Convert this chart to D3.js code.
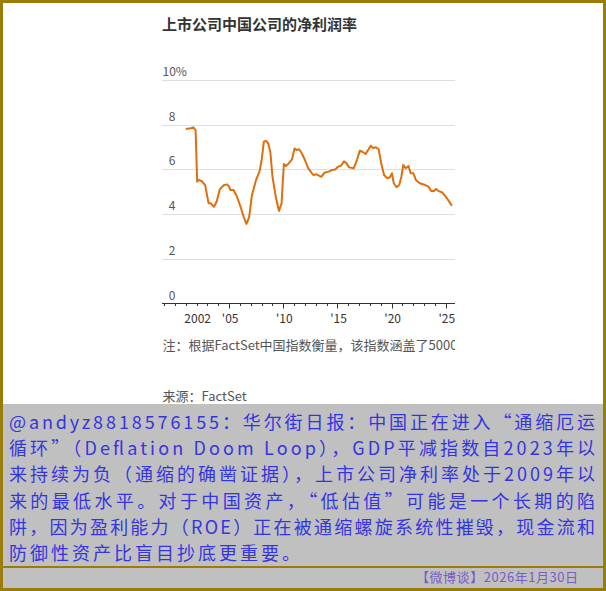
<!DOCTYPE html>
<html><head><meta charset="utf-8">
<script src="https://cdn.jsdelivr.net/npm/d3@7"></script>
<style>body{margin:0;background:#fff}svg{display:block}</style>
</head><body>
<svg id="c" width="606" height="591"></svg>
<script>
// ---- data ----
const years = [2001.0,2001.45,2001.7,2001.9,2002.05,2002.2,2002.48,2002.78,2003.1,2003.3,2003.6,2003.84,
  2004.14,2004.5,2004.8,2005.0,2005.1,2005.4,2005.7,2006.05,2006.34,2006.6,2006.85,2007.1,2007.5,2007.8,
  2008.0,2008.2,2008.4,2008.6,2008.8,2009.0,2009.3,2009.6,2009.84,2010.05,2010.24,2010.5,2010.8,2011.04,
  2011.2,2011.46,2011.7,2012.0,2012.3,2012.76,2013.07,2013.5,2013.8,2014.18,2014.5,2014.8,2015.04,2015.3,
  2015.6,2015.84,2016.08,2016.5,2016.8,2017.07,2017.3,2017.6,2017.87,2018.06,2018.3,2018.55,2018.8,2019.04,
  2019.3,2019.6,2019.84,2020.03,2020.2,2020.45,2020.7,2020.9,2021.07,2021.3,2021.56,2021.75,2022.0,2022.24,
  2022.6,2023.1,2023.4,2023.65,2023.9,2024.1,2024.33,2024.64,2024.95,2025.26,2025.56];
const margins = [7.81,7.84,7.88,7.76,5.45,5.53,5.47,5.30,4.48,4.48,4.33,4.55,
  5.11,5.29,5.33,5.23,5.08,5.08,4.81,4.33,3.88,3.56,3.88,4.85,5.55,5.90,
  6.42,7.24,7.28,7.17,6.79,5.67,4.78,4.14,4.48,6.24,6.15,6.27,6.45,6.94,
  6.87,6.90,6.72,6.42,6.05,5.75,5.78,5.67,5.85,5.90,5.97,6.00,6.12,6.15,
  6.36,6.27,6.09,6.05,6.42,6.84,6.79,6.69,6.90,7.06,6.96,6.99,6.90,6.27,
  5.75,5.60,5.65,5.83,5.38,5.20,5.30,5.67,6.20,6.05,6.15,5.83,5.83,5.53,
  5.38,5.30,5.23,5.03,5.03,5.12,5.03,4.98,4.81,4.60,4.38];
const yTicks = [0,2,4,6,8,10];
const xMajor = [2002,2005,2010,2015,2020,2025];
const xLabels = ["2002","'05","'10","'15","'20","'25"];
const title = "上市公司中国公司的净利润率";
const note = "注：根据FactSet中国指数衡量，该指数涵盖了5000家以上公司";
const source = "来源：FactSet";
const postLines = [
  "@andyz8818576155：华尔街日报：中国正在进入“通缩厄运",
  "循环”（Deflation Doom Loop），GDP平减指数自2023年以",
  "来持续为负（通缩的确凿证据），上市公司净利率处于2009年以",
  "来的最低水平。对于中国资产，“低估值”可能是一个长期的陷",
  "阱，因为盈利能力（ROE）正在被通缩螺旋系统性摧毁，现金流和",
  "防御性资产比盲目抄底更重要。"
];
const footer = "【微博谈】2026年1月30日";

// ---- drawing ----
const svg = d3.select("#c");
const FONT = "'Noto Sans CJK SC','Noto Sans',sans-serif";
const gold = "#9a7c0b", grey = "#c0c0c0";

svg.append("rect").attr("width",606).attr("height",591).attr("fill",gold);
svg.append("rect").attr("x",3).attr("y",3).attr("width",600).attr("height",401).attr("fill","#fff");
svg.append("rect").attr("x",3).attr("y",404).attr("width",600).attr("height",162).attr("fill",grey);
svg.append("rect").attr("x",3).attr("y",568).attr("width",600).attr("height",20).attr("fill",grey);

const x = d3.scaleLinear().domain([1998.8,2025.85]).range([162,455]);
const y = d3.scaleLinear().domain([0,10]).range([303.5,80]);

svg.append("text").attr("x",162).attr("y",30).attr("font-family",FONT).attr("font-size",15)
  .attr("font-weight","bold").attr("fill","#333").text(title);

// gridlines
svg.append("g").selectAll("line").data(yTicks.filter(d=>d>0)).join("line")
  .attr("x1",162).attr("x2",455).attr("y1",d=>Math.round(y(d))+0.5).attr("y2",d=>Math.round(y(d))+0.5)
  .attr("stroke","#dedede").attr("stroke-width",1);

// y labels
svg.append("g").selectAll("text").data(yTicks).join("text")
  .attr("x",d=>d===10?162.5:175.5).attr("y",d=>y(d)-4)
  .attr("text-anchor",d=>d===10?"start":"end")
  .attr("font-family",FONT).attr("font-size",12).attr("fill","#555")
  .text(d=>d===10?"10%":d);

// x axis
const axisY = 303.5;
svg.append("line").attr("x1",162).attr("x2",455).attr("y1",axisY).attr("y2",axisY).attr("stroke","#333");
const minor = d3.range(1999,2026);
svg.append("g").selectAll("line").data(minor).join("line")
  .attr("x1",d=>Math.round(x(d))+0.5).attr("x2",d=>Math.round(x(d))+0.5)
  .attr("y1",axisY).attr("y2",d=>xMajor.includes(d)&&d!==2002?axisY+5:axisY+2.5)
  .attr("stroke","#333");
svg.append("g").selectAll("text").data(xMajor).join("text")
  .attr("x",d=>x(d)+1).attr("y",323).attr("text-anchor","middle")
  .attr("font-family",FONT).attr("font-size",12).attr("fill","#333")
  .text((d,i)=>xLabels[i]);

// line
const line = d3.line().x((d,i)=>x(years[i])).y(d=>y(d)).curve(d3.curveLinear);
svg.append("path").datum(margins).attr("d",line).attr("fill","none")
  .attr("stroke","#de6f0c").attr("stroke-width",2).attr("stroke-linejoin","round");

// note (clipped) and source
svg.append("clipPath").attr("id","nc").append("rect").attr("x",150).attr("y",330).attr("width",305).attr("height",25);
svg.append("text").attr("clip-path","url(#nc)").attr("x",162.5).attr("y",350)
  .attr("font-family",FONT).attr("font-size",13).attr("fill","#555").text(note);
svg.append("text").attr("x",162.5).attr("y",401)
  .attr("font-family",FONT).attr("font-size",13).attr("fill","#555").text(source);

// post text
svg.append("g").selectAll("text").data(postLines).join("text")
  .attr("x",9).attr("y",(d,i)=>429+i*26.2)
  .attr("font-family",FONT).attr("font-size",18).attr("fill","#3535e0")
  .each(function(d,i){ if(i<5){ d3.select(this).attr("textLength",586).attr("lengthAdjust","spacing"); } else { d3.select(this).attr("letter-spacing",3); } })
  .text(d=>d);

svg.append("text").attr("x",416).attr("y",582).attr("font-family",FONT).attr("font-size",13)
  .attr("fill","#7a5cc6").attr("textLength",162).attr("lengthAdjust","spacing").text(footer);
</script>
</body></html>
